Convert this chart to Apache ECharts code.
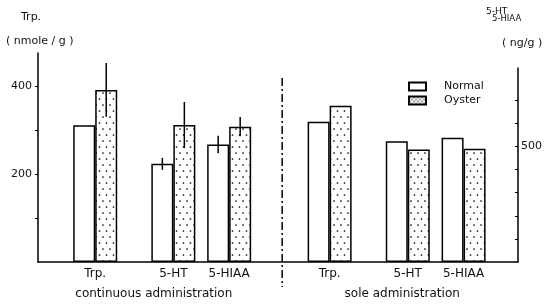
<!DOCTYPE html>
<html>
<head>
<meta charset="utf-8">
<script src="https://cdn.jsdelivr.net/npm/echarts@6/dist/echarts.min.js"></script>
<style>
html, body { margin: 0; padding: 0; background: #fff; }
#main { width: 548px; height: 305px; }
</style>
</head>
<body>
<div id="main"></div>
<script>
// 数据
var groups = ['continuous administration', 'sole administration'];
var substances = ['Trp.', '5-HT', '5-HIAA'];
// Trp. 用左轴 (nmole/g)，5-HT / 5-HIAA 用右轴 (ng/g)
var normalCont = [311, 425, 509];
var oysterCont = [391, 593, 586];
var normalSole = [319, 523, 538];
var oysterSole = [355, 487, 490];
// 误差线 (±)，null = 没有
var normalContErr = [null, 26, 38];
var oysterContErr = [61, 100, 42];
// 刻度
var leftTicks = [100, 200, 300, 400];
var leftLabels = [200, 400];
var rightTicks = [100, 200, 300, 400, 500, 600, 700];
var rightLabels = [500];

// 布局
var slotCount = 172;
var slotOf = [[20, 48, 68], [104, 132, 152]];
var groupSlot = [41, 130];
var dividerSlot = 87;
var barW = 22;
var plotTop = 53, htTop = 68, baseY = 262;
var leftMax = 475;
var rightMax = 840;
var rightDataMax = rightMax * (baseY - plotTop) / (baseY - htTop);

var slots = [];
for (var i = 0; i < slotCount; i++) slots.push(String(i));
function empty() { return slots.map(function () { return '-'; }); }

var trpNormal = empty(), trpOyster = empty(), htNormal = empty(), htOyster = empty();
var catLabel = {}, groupLabel = {};
var normalVals = [normalCont, normalSole], oysterVals = [oysterCont, oysterSole];
for (var g = 0; g < 2; g++) {
    groupLabel[slots[groupSlot[g]]] = groups[g];
    for (var k = 0; k < 3; k++) {
        var s = slotOf[g][k];
        catLabel[slots[s]] = substances[k];
        if (k === 0) {
            trpNormal[s] = normalVals[g][k];
            trpOyster[s] = oysterVals[g][k];
        } else {
            htNormal[s] = normalVals[g][k];
            htOyster[s] = oysterVals[g][k];
        }
    }
}

var errTrp = [], errHt = [];
for (var k = 0; k < 3; k++) {
    var target = k === 0 ? errTrp : errHt;
    var s = slotOf[0][k];
    if (normalContErr[k] != null) target.push([s, normalCont[k] - normalContErr[k], normalCont[k] + normalContErr[k], -1]);
    if (oysterContErr[k] != null) target.push([s, oysterCont[k] - oysterContErr[k], oysterCont[k] + oysterContErr[k], 1]);
}

// 点状填充
function dots(w, h, pts, r) {
    var c = document.createElement('canvas');
    c.width = w; c.height = h;
    var ctx = c.getContext('2d');
    ctx.fillStyle = '#fff';
    ctx.fillRect(0, 0, w, h);
    ctx.fillStyle = '#000';
    pts.forEach(function (p) {
        ctx.beginPath(); ctx.arc(p[0], p[1], r, 0, Math.PI * 2); ctx.fill();
    });
    return c;
}
var barDots = dots(7, 12, [[1.5, 3], [5, 9]], 0.85);
var iconDots = dots(4, 4, [[1, 1], [3, 3]], 0.7);

var normalStyle = { color: '#fff', borderColor: '#000', borderWidth: 1.5 };
var oysterStyle = { color: { image: barDots, repeat: 'repeat' }, borderColor: '#000', borderWidth: 1.5 };

function renderErr(params, api) {
    var top = api.coord([api.value(0), api.value(2)]);
    var bot = api.coord([api.value(0), api.value(1)]);
    var x = top[0] + api.value(3) * barW / 2;
    return {
        type: 'line',
        shape: { x1: x, y1: top[1], x2: x, y2: bot[1] },
        style: { stroke: '#000', lineWidth: 1.5 }
    };
}

var font = 'DejaVu Sans';
var myChart = echarts.init(document.getElementById('main'));

var option = {
    backgroundColor: '#fff',
    animation: false,
    textStyle: { fontFamily: font, color: '#111' },
    grid: [
        { left: 38, right: 30, top: plotTop, bottom: 305 - baseY },
        { left: 38, right: 30, top: htTop, bottom: 305 - baseY }
    ],
    legend: {
        data: [
            { name: 'Normal' },
            { name: 'Oyster', itemStyle: { color: { image: iconDots, repeat: 'repeat' } } }
        ],
        orient: 'vertical',
        left: 403,
        top: 75,
        itemWidth: 17,
        itemHeight: 8,
        itemGap: 1,
        icon: 'rect',
        selectedMode: false,
        textStyle: { fontFamily: font, fontSize: 11, color: '#111', lineHeight: 13, padding: [0, 0, 0, 13] }
    },
    xAxis: [
        {
            type: 'category', gridIndex: 0, data: slots,
            axisLine: { lineStyle: { color: '#000', width: 1.5 } },
            axisTick: { show: false },
            axisLabel: {
                interval: 0, margin: 6, fontSize: 12, color: '#111',
                formatter: function (v) { return catLabel[v] || ''; }
            }
        },
        {
            type: 'category', gridIndex: 0, data: slots, position: 'bottom', offset: 20,
            axisLine: { show: false },
            axisTick: { show: false },
            axisLabel: {
                interval: 0, margin: 6, fontSize: 12, color: '#111',
                formatter: function (v) { return groupLabel[v] || ''; }
            }
        },
        { type: 'value', gridIndex: 1, min: 0, max: 1, show: false }
    ],
    yAxis: [
        {
            type: 'value', gridIndex: 0, position: 'left', min: 0, max: leftMax,
            splitLine: { show: false },
            axisLine: { show: true, onZero: false, lineStyle: { color: '#000', width: 1.5 } },
            axisTick: { show: true, length: 3, customValues: leftTicks, lineStyle: { color: '#000' } },
            axisLabel: { customValues: leftLabels, fontSize: 11, color: '#111', margin: 6 }
        },
        { type: 'value', gridIndex: 0, position: 'right', min: 0, max: rightDataMax, show: false },
        {
            type: 'value', gridIndex: 1, position: 'right', min: 0, max: rightMax,
            splitLine: { show: false },
            axisLine: { show: true, onZero: false, lineStyle: { color: '#000', width: 1.5 } },
            axisTick: { show: true, inside: true, length: 3, customValues: rightTicks, lineStyle: { color: '#000' } },
            axisLabel: { customValues: rightLabels, fontSize: 11, color: '#111', margin: 3 }
        }
    ],
    graphic: [
        { type: 'text', left: 21, top: 12, style: { text: 'Trp.', font: '11px ' + font, fill: '#111' } },
        { type: 'text', left: 6, top: 36, style: { text: '( nmole / g )', font: '11px ' + font, fill: '#111' } },
        { type: 'text', left: 486, top: 7, style: { text: '5-HT', font: '9px ' + font, fill: '#111' } },
        { type: 'text', left: 492, top: 14, style: { text: '5-HIAA', font: '8.5px ' + font, fill: '#111' } },
        { type: 'text', left: 502, top: 38, style: { text: '( ng/g )', font: '11px ' + font, fill: '#111' } }
    ],
    series: [
        { name: 'Normal', type: 'bar', xAxisIndex: 0, yAxisIndex: 0, stack: 'normal', barWidth: barW, barGap: '0%', itemStyle: normalStyle, data: trpNormal },
        { name: 'Oyster', type: 'bar', xAxisIndex: 0, yAxisIndex: 0, stack: 'oyster', barWidth: barW, barGap: '0%', itemStyle: oysterStyle, data: trpOyster },
        { name: 'Normal', type: 'bar', xAxisIndex: 0, yAxisIndex: 1, stack: 'normal', barWidth: barW, barGap: '0%', itemStyle: normalStyle, data: htNormal },
        { name: 'Oyster', type: 'bar', xAxisIndex: 0, yAxisIndex: 1, stack: 'oyster', barWidth: barW, barGap: '0%', itemStyle: oysterStyle, data: htOyster },
        { name: 'err1', type: 'custom', xAxisIndex: 0, yAxisIndex: 0, z: 5, renderItem: renderErr, data: errTrp },
        { name: 'err2', type: 'custom', xAxisIndex: 0, yAxisIndex: 1, z: 5, renderItem: renderErr, data: errHt }
    ]
};
myChart.setOption(option);

// 中间的点划线
var dx = myChart.convertToPixel({ xAxisIndex: 0 }, slots[dividerSlot]);
myChart.setOption({
    graphic: option.graphic.concat([{
        type: 'line',
        shape: { x1: dx, y1: 78, x2: dx, y2: 287 },
        style: { stroke: '#000', lineWidth: 1.5, lineDash: [8, 3, 2, 3] }
    }])
});
</script>
</body>
</html>
